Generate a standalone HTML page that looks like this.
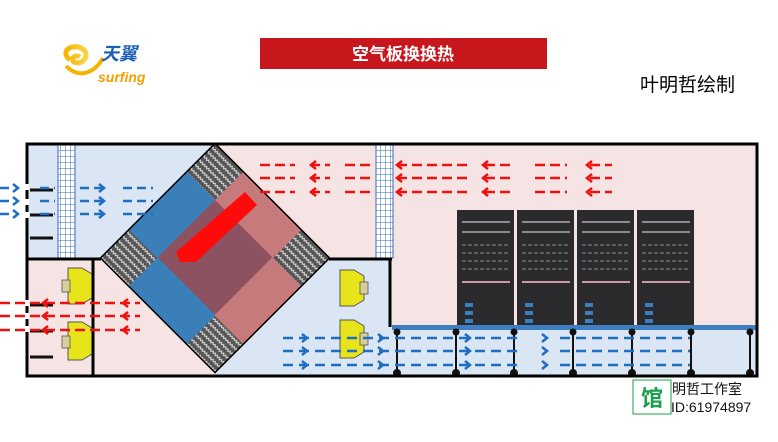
<!DOCTYPE html>
<html><head><meta charset="utf-8"><style>
body{margin:0;background:#fff;width:778px;height:437px;overflow:hidden;font-family:"Liberation Sans","Noto Sans CJK SC",sans-serif}
</style></head><body>
<svg width="778" height="437" viewBox="0 0 778 437" xmlns="http://www.w3.org/2000/svg">
<defs>
<pattern id="hatch" width="6" height="6" patternUnits="userSpaceOnUse">
<rect width="6" height="6" fill="#555"/>
<path d="M0 3 L1.5 1 L3 3 L4.5 1 L6 3" stroke="#ddd" stroke-width="1" fill="none"/>
</pattern>
<pattern id="grid" width="5" height="6" patternUnits="userSpaceOnUse">
<rect width="5" height="6" fill="#fff"/>
<path d="M0 0H5M0 0V6" stroke="#3a6bb5" stroke-width="1"/>
</pattern>
<linearGradient id="logo" x1="0" x2="1"><stop offset="0" stop-color="#f7b500"/><stop offset="1" stop-color="#f9d34a"/></linearGradient>
</defs>

<!-- logo -->
<g>
<path d="M70 60 C58 50 75 42 84 50 C90 56 82 66 74 62 C70 58 76 54 80 57" stroke="url(#logo)" stroke-width="5" fill="none"/>
<path d="M66 66 C80 80 95 72 103 58" stroke="#f5b400" stroke-width="4" fill="none"/>
<text x="101" y="60" font-size="18" font-weight="bold" fill="#1d5fb5" font-style="italic">天翼</text>
<text x="98" y="82" font-size="14" fill="#f0a000" font-style="italic" font-weight="bold">surfing</text>
</g>

<!-- title -->
<rect x="260" y="38" width="287" height="31" fill="#c8161d"/>
<text x="403" y="60" font-size="17" font-weight="bold" fill="#fff" text-anchor="middle">空气板换换热</text>
<text x="640" y="91" font-size="19" fill="#000">叶明哲绘制</text>

<!-- backgrounds -->
<rect x="26" y="143" width="190" height="115" fill="#dbe6f4"/>
<rect x="215" y="143" width="543" height="185" fill="#f6e4e4"/>
<rect x="26" y="258" width="190" height="119" fill="#f6e4e4"/>
<rect x="215" y="258" width="176" height="119" fill="#dbe6f4"/>
<rect x="390" y="328" width="368" height="49" fill="#dbe6f4"/>

<!-- filters -->
<rect x="58" y="143" width="17" height="115" fill="url(#grid)" stroke="#3a6bb5"/>
<rect x="376" y="143" width="17" height="115" fill="url(#grid)" stroke="#3a6bb5"/>

<!-- diamond -->
<g transform="translate(215,258) rotate(45)">
<rect x="-81" y="-81" width="162" height="162" fill="url(#hatch)"/>
<rect x="-81" y="-41" width="41" height="82" fill="#3a7fb8"/>
<rect x="-41" y="40" width="82" height="41" fill="#3a7fb8"/>
<rect x="-41" y="-81" width="82" height="41" fill="#c77a7c"/>
<rect x="40" y="-41" width="41" height="82" fill="#c77a7c"/>
<rect x="-41" y="-41" width="81" height="81" fill="#8c5262"/>
<rect x="-81" y="-81" width="162" height="162" fill="none" stroke="#000" stroke-width="1.5"/>
</g>
<polygon points="176,252 245,192 257,205 196,262 180,262" fill="#ff0a0a"/>

<!-- servers -->
<g>
<rect x="457" y="210" width="57" height="117" fill="#2b2b2e"/>
<rect x="517" y="210" width="57" height="117" fill="#2b2b2e"/>
<rect x="577" y="210" width="57" height="117" fill="#2b2b2e"/>
<rect x="637" y="210" width="57" height="117" fill="#2b2b2e"/>
<g fill="none" stroke="#8a8a90" stroke-width="2">
<path d="M462 222h48M462 232h48M522 222h48M522 232h48M582 222h48M582 232h48M642 222h48M642 232h48"/>
<path d="M462 245h48M462 253h48M462 261h48M462 269h48M522 245h48M522 253h48M522 261h48M522 269h48M582 245h48M582 253h48M582 261h48M582 269h48M642 245h48M642 253h48M642 261h48M642 269h48" stroke="#5a5a60" stroke-dasharray="4 2"/>
</g>
<path d="M462 282h48M522 282h48M582 282h48M642 282h48" stroke="#c9a" stroke-width="2"/>
<path d="M465 305h8M465 313h8M465 321h8M525 305h8M525 313h8M525 321h8M585 305h8M585 313h8M585 321h8M645 305h8M645 313h8M645 321h8" stroke="#3a7fc0" stroke-width="4"/>
</g>

<!-- floor -->
<rect x="392" y="325" width="366" height="5" fill="#3d7fc0"/>
<g stroke="#111" stroke-width="2">
<path d="M397 330V372M456 330V372M514 330V372M573 330V372M632 330V372M691 330V372M750 330V372"/>
</g>
<g fill="#111">
<circle cx="397" cy="373" r="4"/><circle cx="456" cy="373" r="4"/><circle cx="514" cy="373" r="4"/><circle cx="573" cy="373" r="4"/><circle cx="632" cy="373" r="4"/><circle cx="691" cy="373" r="4"/><circle cx="750" cy="373" r="4"/>
<circle cx="397" cy="332" r="3.5"/><circle cx="456" cy="332" r="3.5"/><circle cx="514" cy="332" r="3.5"/><circle cx="573" cy="332" r="3.5"/><circle cx="632" cy="332" r="3.5"/><circle cx="691" cy="332" r="3.5"/><circle cx="750" cy="332" r="3.5"/>
</g>

<!-- fans -->
<g fill="#e8e41c" stroke="#555" stroke-width="1">
<path d="M68 268h14l10 6v24l-10 6h-14z"/>
<path d="M68 322h14l10 6v26l-10 6h-14z"/>
<path d="M340 270h14l10 6v24l-10 6h-14z"/>
<path d="M340 320h14l10 6v26l-10 6h-14z"/>
</g>
<g fill="#d6cf9a" stroke="#555" stroke-width="0.8">
<rect x="62" y="280" width="8" height="12"/><rect x="62" y="336" width="8" height="12"/>
<rect x="360" y="282" width="8" height="12"/><rect x="360" y="333" width="8" height="12"/>
</g>

<!-- walls -->
<g stroke="#000" fill="none">
<rect x="27" y="144" width="730" height="232" stroke-width="3"/>
<path d="M26 259H101M329 259H392" stroke-width="3"/>
<path d="M93 259V377M390 259V327" stroke-width="3"/>
</g>
<g fill="#fff">
<rect x="23" y="184" width="6" height="6"/><rect x="23" y="199" width="6" height="6"/><rect x="23" y="212" width="6" height="6"/>
<rect x="23" y="300" width="6" height="6"/><rect x="23" y="313" width="6" height="6"/><rect x="23" y="326" width="6" height="6"/>
</g>
<g stroke="#111" stroke-width="3">
<path d="M30 190H53M30 215H53M30 238H53M30 305H53M30 331H53M30 357H53"/>
</g>

<!-- blue arrows -->
<g stroke="#1f6fc0" stroke-width="2.5" fill="none">
<path d="M0 188H12M0 201H12M0 214H12M40 188H55M40 201H55M40 214H55M80 188H102M80 201H102M80 214H102M123 188H153M123 201H153M123 214H153" stroke-dasharray="9 5"/>
<path d="M283 338H520M283 351H520M283 365H520M560 338H690M560 351H690M560 365H690" stroke-dasharray="10 6"/>
</g>
<g stroke="#1f6fc0" stroke-width="2.5" fill="none">
<path d="M13 184l5 4-5 4M13 197l5 4-5 4M13 210l5 4-5 4M99 184l5 4-5 4M99 197l5 4-5 4M99 210l5 4-5 4"/>
<path d="M302 334l5 4-5 4M302 347l5 4-5 4M302 361l5 4-5 4M378 334l5 4-5 4M378 347l5 4-5 4M378 361l5 4-5 4M465 334l5 4-5 4M465 347l5 4-5 4M465 361l5 4-5 4M542 334l5 4-5 4M542 347l5 4-5 4M542 361l5 4-5 4"/>
</g>

<!-- red arrows -->
<g stroke="#f01010" stroke-width="2.5" fill="none">
<path d="M260 165H295M260 178H295M260 192H295M310 165H330M310 178H330M310 192H330M345 165H372M345 178H372M345 192H372M397 165H470M397 178H470M397 192H470M485 165H510M485 178H510M485 192H510M535 165H567M535 178H567M535 192H567M590 165H612M590 178H612M590 192H612" stroke-dasharray="10 5"/>
<path d="M0 303H140M0 316H140M0 330H140" stroke-dasharray="10 5"/>
</g>
<g stroke="#f01010" stroke-width="2.5" fill="none">
<path d="M316 161l-5 4 5 4M316 174l-5 4 5 4M316 188l-5 4 5 4M402 161l-5 4 5 4M402 174l-5 4 5 4M402 188l-5 4 5 4M488 161l-5 4 5 4M488 174l-5 4 5 4M488 188l-5 4 5 4M592 161l-5 4 5 4M592 174l-5 4 5 4M592 188l-5 4 5 4"/>
<path d="M48 299l-5 4 5 4M48 312l-5 4 5 4M48 326l-5 4 5 4M128 299l-5 4 5 4M128 312l-5 4 5 4M128 326l-5 4 5 4"/>
</g>

<!-- watermark -->
<rect x="633" y="380" width="38" height="34" fill="#fff" stroke="#1aa04a" stroke-width="1"/>
<text x="652" y="406" font-size="22" font-weight="bold" fill="#1aa04a" text-anchor="middle">馆</text>
<text x="672" y="394" font-size="14" fill="#111">明哲工作室</text>
<text x="671" y="412" font-size="14" fill="#111">ID:61974897</text>
</svg>
</body></html>
